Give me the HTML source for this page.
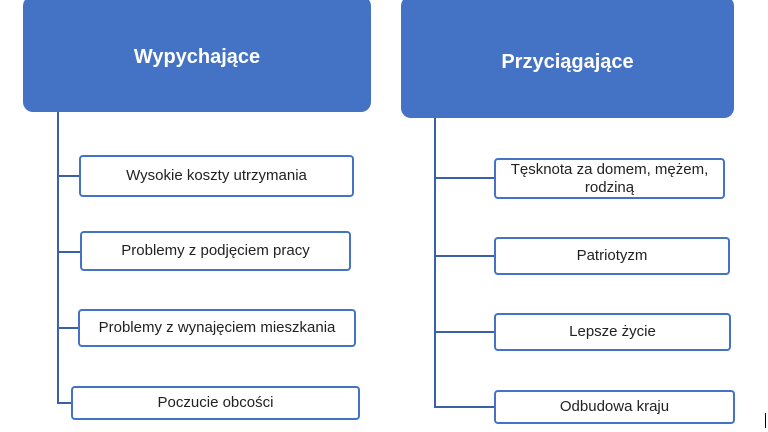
<!DOCTYPE html>
<html><head><meta charset="utf-8"><style>
*{margin:0;padding:0;box-sizing:border-box}
body{width:768px;height:432px;background:#fff;position:relative;overflow:hidden;font-family:"Liberation Sans",sans-serif}
.h{position:absolute;background:#4472C4;border-radius:10px;color:#fff;font-weight:bold;font-size:20px;display:flex;align-items:center;justify-content:center}
.b{position:absolute;background:#fff;border:2px solid #4472C4;border-radius:4px;color:#222;font-size:15px;display:flex;align-items:center;justify-content:center;text-align:center;line-height:18px}
.l{position:absolute;background:#3a60a8}
</style></head><body>
<div class="h" style="left:23px;top:-4px;width:348px;height:116px;padding-top:6px">Wypychające</div>
<div class="h" style="left:401px;top:-4px;width:333px;height:122px;padding-top:10px">Przyciągające</div>

<div class="l" style="left:57px;top:112px;width:2px;height:292px"></div>
<div class="l" style="left:57px;top:175px;width:23px;height:2px"></div>
<div class="l" style="left:57px;top:251px;width:23px;height:2px"></div>
<div class="l" style="left:57px;top:327px;width:22px;height:2px"></div>
<div class="l" style="left:57px;top:402px;width:15px;height:2px"></div>

<div class="b" style="left:79px;top:155px;width:275px;height:42px">Wysokie koszty utrzymania</div>
<div class="b" style="left:80px;top:231px;width:271px;height:40px">Problemy z podjęciem pracy</div>
<div class="b" style="left:78px;top:309px;width:278px;height:38px">Problemy z wynajęciem mieszkania</div>
<div class="b" style="left:71px;top:386px;width:289px;height:34px">Poczucie obcości</div>

<div class="l" style="left:434px;top:118px;width:2px;height:290px"></div>
<div class="l" style="left:434px;top:177px;width:61px;height:2px"></div>
<div class="l" style="left:434px;top:255px;width:61px;height:2px"></div>
<div class="l" style="left:434px;top:331px;width:61px;height:2px"></div>
<div class="l" style="left:434px;top:406px;width:61px;height:2px"></div>

<div class="b" style="left:494px;top:158px;width:231px;height:41px">Tęsknota za domem, mężem,<br>rodziną</div>
<div class="b" style="left:494px;top:237px;width:236px;height:38px">Patriotyzm</div>
<div class="b" style="left:494px;top:313px;width:237px;height:38px">Lepsze życie</div>
<div class="b" style="left:494px;top:390px;width:241px;height:34px">Odbudowa kraju</div>

<div style="position:absolute;left:765px;top:413px;width:1px;height:15px;background:#000"></div>
</body></html>
